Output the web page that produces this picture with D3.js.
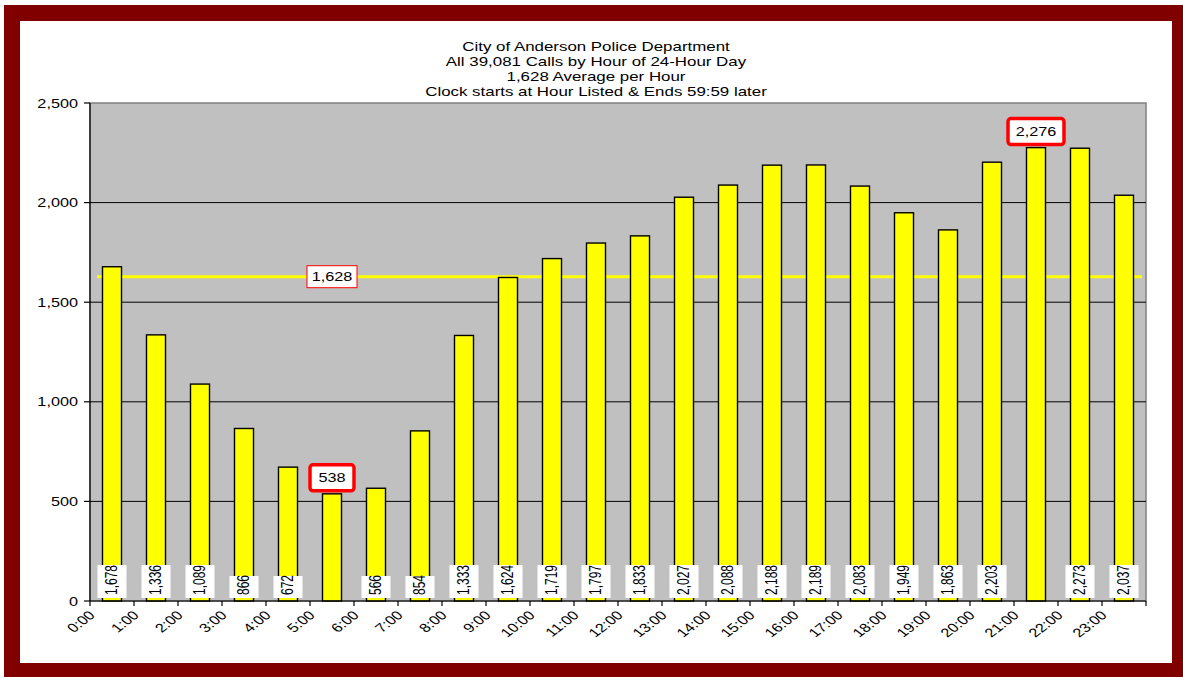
<!DOCTYPE html>
<html>
<head>
<meta charset="utf-8">
<script src="https://cdn.jsdelivr.net/npm/d3@7"></script>
<style>
  body { margin: 0; background: #fff; }
  text { font-family: "Liberation Sans", Arial, sans-serif; fill: #000; }
</style>
</head>
<body>
<div id="calls-by-hour"></div>
<script>
const hours = ["0:00", "1:00", "2:00", "3:00", "4:00", "5:00", "6:00", "7:00", "8:00", "9:00", "10:00", "11:00",
  "12:00", "13:00", "14:00", "15:00", "16:00", "17:00", "18:00", "19:00", "20:00", "21:00", "22:00", "23:00"];
const calls = [1678, 1336, 1089, 866, 672, 538, 566, 854, 1333, 1624, 1719, 1797,
  1833, 2027, 2088, 2188, 2189, 2083, 1949, 1863, 2203, 2276, 2273, 2037];
const average = 1628;
const yTicks = [0, 500, 1000, 1500, 2000, 2500];
const titleLines = [
  "City of Anderson Police Department",
  "All 39,081 Calls by Hour of 24-Hour Day",
  "1,628 Average per Hour",
  "Clock starts at Hour Listed & Ends 59:59 later"
];
// min and max get a red callout instead of the label at the bar foot
const callouts = ["5:00", "21:00"];

const width = 1183, height = 677,
  plot = { left: 90, right: 1146, top: 103, bottom: 601 },
  sx = 1.3; // the whole picture is stretched sideways

const fmt = d3.format(",");

const svg = d3.select("#calls-by-hour")
  .append("svg")
  .attr("width", width)
  .attr("height", height);

// frame
svg.append("rect").attr("x", 4).attr("y", 5).attr("width", width - 4).attr("height", height - 5).attr("fill", "#800000");
svg.append("rect").attr("x", 20).attr("y", 21).attr("width", 1152).attr("height", 642).attr("fill", "#fff");

// stretched text helper
function label(g, str, x, y, size, anchor, rot) {
  return g.append("text")
    .attr("transform", `translate(${x},${y}) scale(${sx},1)` + (rot ? ` rotate(${rot})` : ""))
    .attr("text-anchor", anchor)
    .style("font-size", size + "px")
    .text(str);
}

// title
titleLines.forEach((t, i) => label(svg, t, 596, 51 + i * 15, 13, "middle"));

let xSlot = d3.scaleBand().domain(hours).range([plot.left, plot.right]).padding(0);
let yScale = d3.scaleLinear().domain([0, 2500]).range([plot.bottom, plot.top]);
let step = xSlot.step(), barW = 19;
let cx = h => xSlot(h) + step / 2;

// plot area
svg.append("rect")
  .attr("x", plot.left).attr("y", plot.top)
  .attr("width", plot.right - plot.left).attr("height", plot.bottom - plot.top)
  .attr("fill", "#c0c0c0").attr("stroke", "#808080").attr("stroke-width", 1.5);

// grid
svg.selectAll(".grid")
  .data(yTicks.filter(d => d > 0 && d < 2500))
  .enter().append("line")
  .attr("x1", plot.left).attr("x2", plot.right)
  .attr("y1", d => yScale(d)).attr("y2", d => yScale(d))
  .attr("stroke", "#000").attr("stroke-width", 1);

// average line
svg.append("line")
  .attr("x1", xSlot(hours[0]) + 7)
  .attr("x2", xSlot(hours[hours.length - 1]) + step - 4)
  .attr("y1", yScale(average)).attr("y2", yScale(average))
  .attr("stroke", "#ffff00").attr("stroke-width", 3);

// bars
svg.selectAll(".bar")
  .data(hours)
  .enter().append("rect")
  .attr("x", (h) => cx(h) - barW / 2)
  .attr("y", (h, i) => yScale(calls[i]))
  .attr("width", barW)
  .attr("height", (h, i) => plot.bottom - yScale(calls[i]))
  .attr("fill", "#ffff00").attr("stroke", "#000").attr("stroke-width", 1.4);

// value labels at bar foot
hours.forEach((h, i) => {
  if (callouts.includes(h)) return;
  let str = fmt(calls[i]);
  let boxH = str.length > 3 ? 33 : 22;
  svg.append("rect")
    .attr("x", cx(h) - 14.5).attr("y", plot.bottom - 3 - boxH)
    .attr("width", 29).attr("height", boxH)
    .attr("fill", "#fff");
  label(svg, str, cx(h) + 4.5, plot.bottom - 6, 12, "start", -90);
});

// red callouts for min / max
callouts.forEach(h => {
  let i = hours.indexOf(h);
  let str = fmt(calls[i]);
  let w = str.length > 3 ? 56 : 44, bh = 26;
  let yb = yScale(calls[i]) - 3;
  svg.append("rect")
    .attr("x", cx(h) - w / 2).attr("y", yb - bh)
    .attr("width", w).attr("height", bh).attr("rx", 3)
    .attr("fill", "#fff").attr("stroke", "#ff0000").attr("stroke-width", 3.5);
  label(svg, str, cx(h), yb - bh / 2 + 4.5, 12.5, "middle");
});

// average label
{
  let ay = yScale(average);
  svg.append("rect")
    .attr("x", cx("5:00") - 25).attr("y", ay - 11)
    .attr("width", 50).attr("height", 22)
    .attr("fill", "#fff").attr("stroke", "#ff0000").attr("stroke-width", 1);
  label(svg, fmt(average), cx("5:00"), ay + 4.5, 12.5, "middle");
}

// y axis
svg.append("line").attr("x1", plot.left).attr("x2", plot.left)
  .attr("y1", plot.top).attr("y2", plot.bottom).attr("stroke", "#000").attr("stroke-width", 1.2);
yTicks.forEach(d => {
  svg.append("line").attr("x1", plot.left - 6).attr("x2", plot.left)
    .attr("y1", yScale(d)).attr("y2", yScale(d)).attr("stroke", "#000").attr("stroke-width", 1.2);
  label(svg, fmt(d), plot.left - 12, yScale(d) + 4.5, 12.5, "end");
});

// x axis
svg.append("line").attr("x1", plot.left).attr("x2", plot.right)
  .attr("y1", plot.bottom).attr("y2", plot.bottom).attr("stroke", "#000").attr("stroke-width", 1.2);
hours.concat(["end"]).forEach((h, i) => {
  let tx = i < hours.length ? xSlot(h) : plot.right;
  svg.append("line").attr("x1", tx).attr("x2", tx)
    .attr("y1", plot.bottom).attr("y2", plot.bottom + 5).attr("stroke", "#000").attr("stroke-width", 1.2);
  if (i < hours.length) label(svg, h, tx + 6, plot.bottom + 15, 12.5, "end", -45);
});
</script>
</body>
</html>
